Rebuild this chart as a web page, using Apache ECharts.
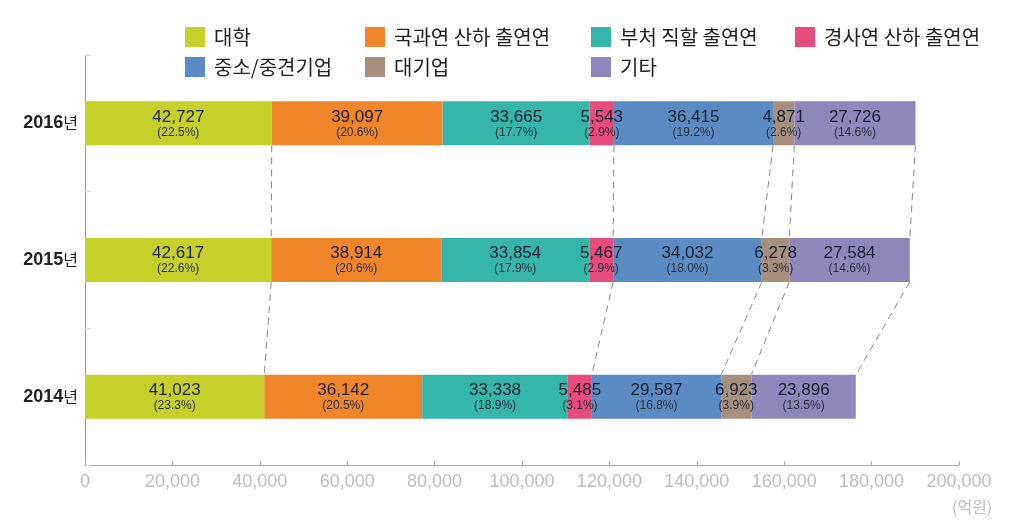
<!DOCTYPE html>
<html>
<head>
<meta charset="utf-8">
<script src="https://cdn.jsdelivr.net/npm/echarts@6/dist/echarts.min.js"></script>
<style>
html,body{margin:0;padding:0;background:#fff;}
#chart{width:1023px;height:526px;}
</style>
</head>
<body>
<div id="chart"></div>
<script>
// ---- data ----
const years = ['2016년', '2015년', '2014년'];
const seriesNames = ['대학', '국과연 산하 출연연', '부처 직할 출연연', '경사연 산하 출연연', '중소/중견기업', '대기업', '기타'];
const univ     = [42727, 42617, 41023];
const nst      = [39097, 38914, 36142];
const ministry = [33665, 33854, 33338];
const nrc      = [5543, 5467, 5485];
const sme      = [36415, 34032, 29587];
const large    = [4871, 6278, 6923];
const etc      = [27726, 27584, 23896];
const univPct     = ['22.5', '22.6', '23.3'];
const nstPct      = ['20.6', '20.6', '20.5'];
const ministryPct = ['17.7', '17.9', '18.9'];
const nrcPct      = ['2.9', '2.9', '3.1'];
const smePct      = ['19.2', '18.0', '16.8'];
const largePct    = ['2.6', '3.3', '3.9'];
const etcPct      = ['14.6', '14.6', '13.5'];
const xTicks = [0, 20000, 40000, 60000, 80000, 100000, 120000, 140000, 160000, 180000, 200000];
const connectAfter = [0, 3, 4, 5, 6]; // series index after which dashed connectors are drawn

const values = [univ, nst, ministry, nrc, sme, large, etc];
const pcts = [univPct, nstPct, ministryPct, nrcPct, smePct, largePct, etcPct];
const colors = ['#c6d02b', '#ef8629', '#36b6aa', '#e84c7d', '#5a8cc3', '#a68f7c', '#8e88ba'];

const fmt = v => v.toLocaleString('en-US');

function cum(yearIdx, upToSeries) {
  let s = 0;
  for (let k = 0; k <= upToSeries; k++) s += values[k][yearIdx];
  return s;
}
const connectorData = [];
for (let y = 0; y < years.length - 1; y++) {
  connectAfter.forEach(k => {
    connectorData.push([cum(y, k), y, cum(y + 1, k), y + 1]);
  });
}

const BAR_W = 44;
const numFont = '"Liberation Sans", Arial, sans-serif';
const krFont = '"Noto Sans CJK KR", sans-serif';

const barSeries = seriesNames.map((name, i) => ({
  name: name,
  type: 'bar',
  stack: 'total',
  barWidth: BAR_W,
  itemStyle: { color: colors[i] },
  data: values[i],
  label: {
    show: true,
    position: 'inside',
    formatter: p => `{v|${fmt(p.value)}}\n{p|(${pcts[i][p.dataIndex]}%)}`,
    rich: {
      v: { fontFamily: numFont, fontSize: 17, color: '#1c2130', lineHeight: 18, align: 'center' },
      p: { fontFamily: numFont, fontSize: 12, color: '#2a2f3c', lineHeight: 13, align: 'center' }
    }
  },
  emphasis: { disabled: true }
}));

const connectorSeries = {
  type: 'custom',
  silent: true,
  encode: { x: [0, 2], y: [1, 3] },
  data: connectorData,
  renderItem: function (params, api) {
    const p1 = api.coord([api.value(0), api.value(1)]);
    const p2 = api.coord([api.value(2), api.value(3)]);
    return {
      type: 'line',
      shape: { x1: p1[0], y1: p1[1] + BAR_W / 2, x2: p2[0], y2: p2[1] - BAR_W / 2 },
      style: { stroke: '#8a8a8a', lineWidth: 1, lineDash: [7, 5] }
    };
  },
  z: 1
};

const legendCols = [
  { left: 180, data: ['대학', '중소/중견기업'] },
  { left: 360, data: ['국과연 산하 출연연', '대기업'] },
  { left: 586, data: ['부처 직할 출연연', '기타'] },
  { left: 790, data: ['경사연 산하 출연연'] }
];

const option = {
  animation: false,
  backgroundColor: '#fff',
  legend: legendCols.map(c => ({
    orient: 'vertical',
    left: c.left,
    top: 22,
    itemWidth: 20,
    itemHeight: 20,
    itemGap: 10,
    icon: 'rect',
    selectedMode: false,
    data: c.data,
    textStyle: { fontFamily: krFont, fontSize: 20, color: '#222', padding: [0, 0, 0, 4] }
  })),
  grid: { left: 85, right: 64, top: 55, bottom: 61, containLabel: false },
  xAxis: {
    type: 'value',
    min: xTicks[0],
    max: xTicks[xTicks.length - 1],
    interval: xTicks[1] - xTicks[0],
    splitLine: { show: false },
    axisLine: { show: true, lineStyle: { color: '#a8a8a8', width: 1 } },
    axisTick: { show: true, inside: true, length: 4, lineStyle: { color: '#a8a8a8' } },
    axisLabel: {
      formatter: v => fmt(v),
      fontFamily: numFont,
      fontSize: 18,
      color: '#bdbdbd',
      margin: 8
    }
  },
  yAxis: {
    type: 'category',
    inverse: true,
    data: years,
    axisLine: { show: true, lineStyle: { color: '#9a9a9a', width: 1 } },
    axisTick: { show: true, inside: true, length: 6, lineStyle: { color: '#d8d8d8' } },
    axisLabel: {
      margin: 7,
      formatter: v => `{y|${v.replace('년', '')}}{n|년}`,
      rich: {
        y: { fontFamily: numFont, fontWeight: 'bold', fontSize: 18, color: '#222' },
        n: { fontFamily: krFont, fontSize: 16, color: '#222' }
      }
    }
  },
  graphic: [{
    type: 'text',
    left: 952,
    top: 499,
    style: { text: '(억원)', fontFamily: krFont, fontSize: 16, fill: '#bdbdbd' }
  }],
  series: barSeries.concat([connectorSeries])
};

const chart = echarts.init(document.getElementById('chart'), null, { renderer: 'canvas' });
chart.setOption(option);
</script>
</body>
</html>
